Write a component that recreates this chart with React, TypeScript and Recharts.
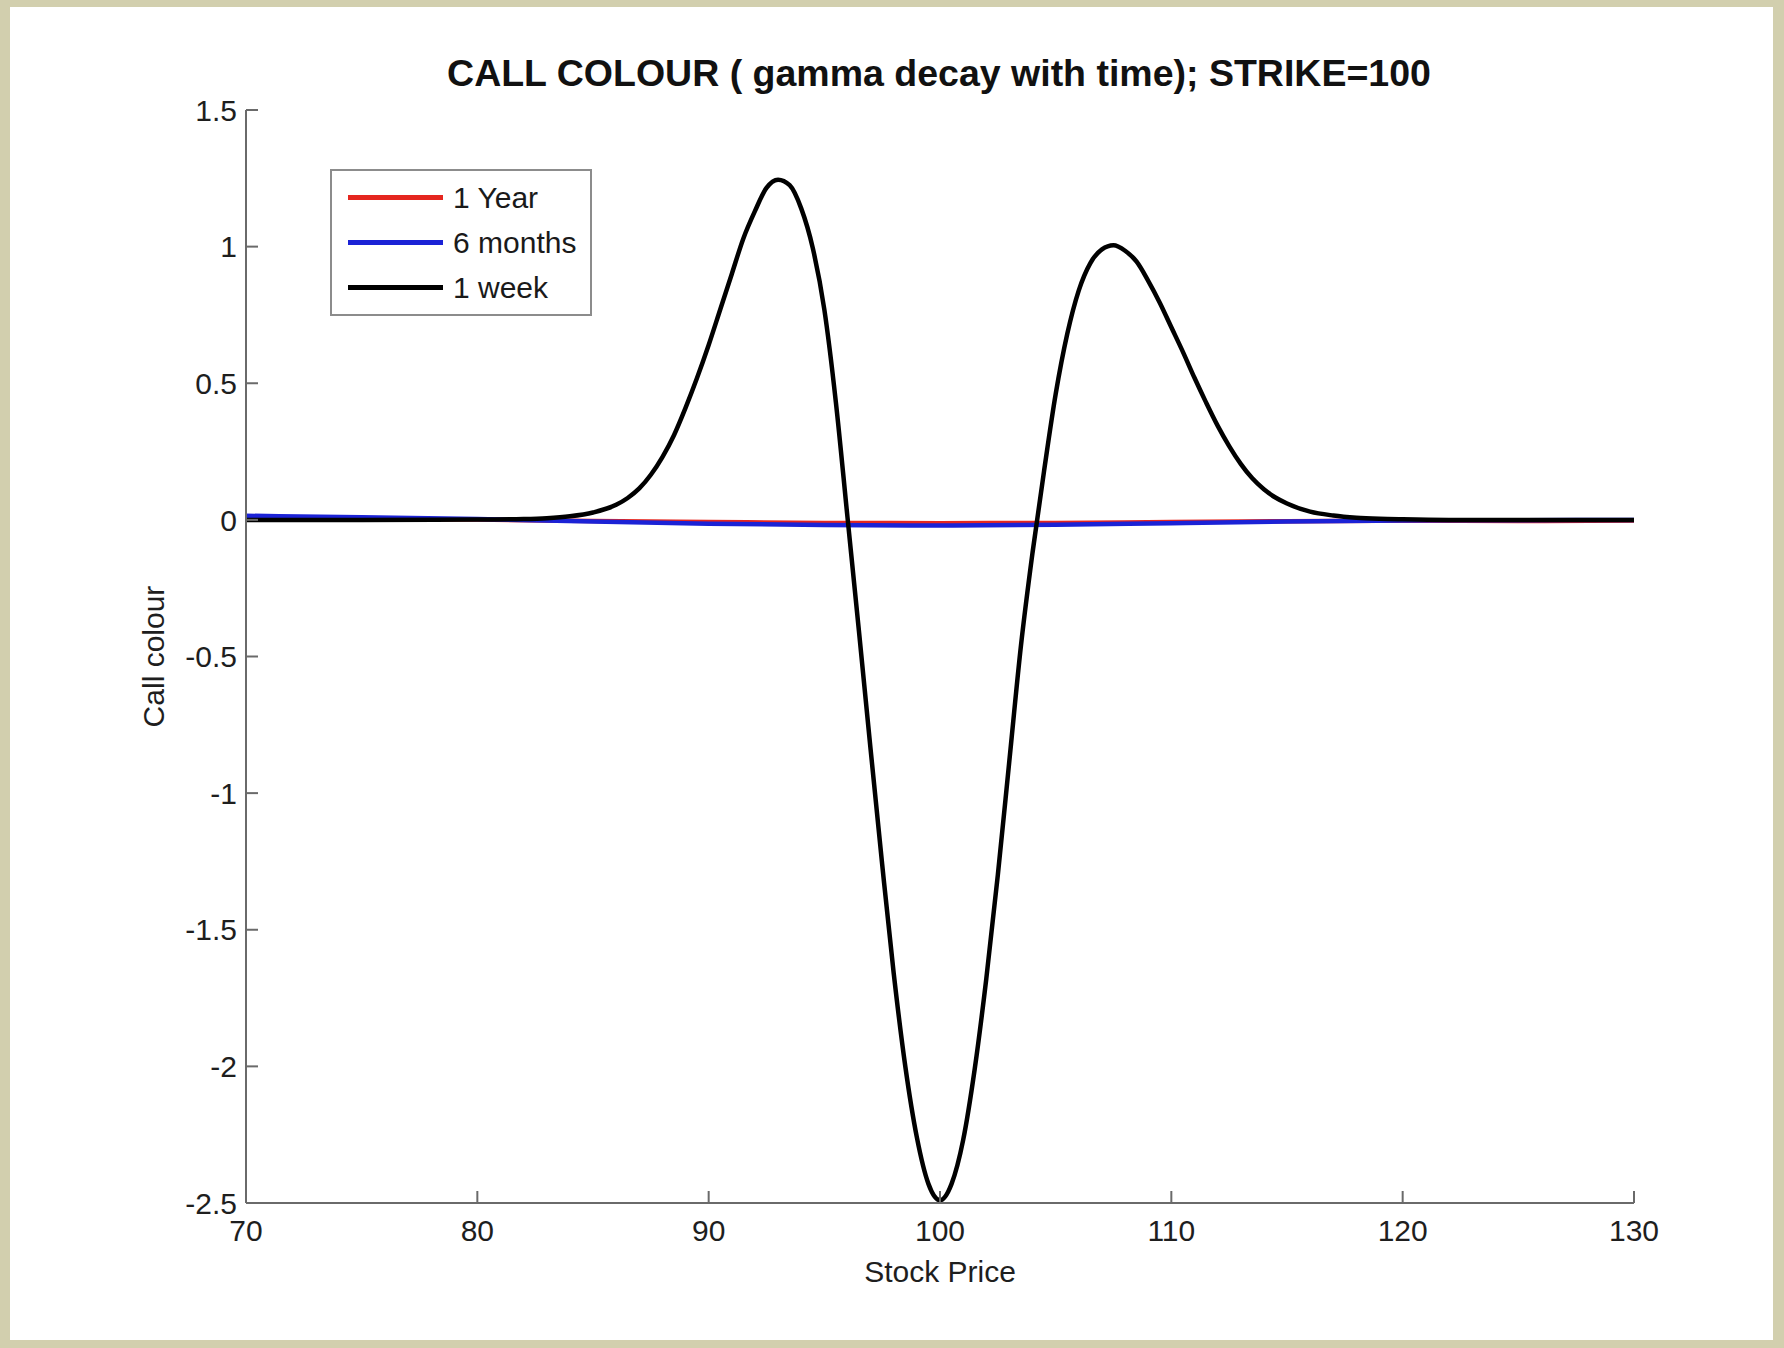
// Call colour (dGamma/dt) against stock price for three maturities, strike 100.
// MATLAB-style axes: left/bottom spines only, ticks pointing inward.

import { Legend, Line, LineChart, XAxis, YAxis } from "recharts";

const FONT = '"Liberation Sans", Arial, Helvetica, sans-serif';

// 1 year and 6 months stay close to zero across the whole range
const yearPrice = [70, 75, 80, 85, 90, 95, 100, 105, 110, 115, 120, 125, 130];
const yearColour = [0.006, 0.004, 0.001, -0.004, -0.008, -0.011, -0.012, -0.011, -0.008, -0.005, -0.003, -0.004, -0.002];

const halfPrice = [70, 75, 80, 85, 90, 95, 100, 105, 110, 115, 120, 125, 130];
const halfColour = [0.015, 0.01, 0.003, -0.006, -0.014, -0.019, -0.021, -0.018, -0.012, -0.006, -0.002, -0.001, 0.0];

// 1 week: two positive lobes around a deep trough at the strike
const weekPrice = [
  70, 75, 80, 82, 83, 84, 85, 86, 86.5, 87, 87.5, 88, 88.5, 89, 89.5, 90, 90.5, 91, 91.5, 92, 92.5, 93, 93.5,
  94, 94.5, 95, 95.5, 96, 96.5, 97, 97.5, 98, 98.5, 99, 99.5, 100, 100.5, 101, 101.5, 102, 102.5, 103, 103.5,
  104, 104.5, 105, 105.5, 106, 106.5, 107, 107.5, 108, 108.5, 109, 109.5, 110, 110.5, 111, 111.5, 112, 112.5,
  113, 113.5, 114, 114.5, 115, 116, 117, 118, 119, 120, 122, 125, 130,
];
const weekColour = [
  0, 0, 0.001, 0.003, 0.006, 0.013, 0.027, 0.055, 0.08, 0.115, 0.165, 0.23, 0.31, 0.41, 0.52, 0.64, 0.77, 0.9,
  1.03, 1.13, 1.215, 1.245, 1.225, 1.14, 0.995, 0.77, 0.43, 0.01, -0.41, -0.84, -1.26, -1.66, -2.0, -2.26, -2.43,
  -2.49, -2.43, -2.27, -2.01, -1.68, -1.3, -0.88, -0.46, -0.12, 0.18, 0.46, 0.68, 0.84, 0.94, 0.99, 1.005,
  0.985, 0.945, 0.875, 0.795, 0.705, 0.615, 0.52, 0.43, 0.345, 0.27, 0.205, 0.152, 0.112, 0.082, 0.06, 0.03,
  0.016, 0.008, 0.004, 0.002, 0, 0, 0,
];

const priceTicks = [70, 80, 90, 100, 110, 120, 130];
const colourTicks = [-2.5, -2, -1.5, -1, -0.5, 0, 0.5, 1, 1.5];
const legendOrder = ["1 Year", "6 months", "1 week"];

const zip = (xs: number[], ys: number[]) => xs.map((price, i) => ({ price, value: ys[i] }));

const yearData = zip(yearPrice, yearColour);
const halfData = zip(halfPrice, halfColour);
const weekData = zip(weekPrice, weekColour);

const AXIS = "#6a6a6a";
const tickStyle = { fill: "#1e1e1e", fontSize: 30, fontFamily: FONT };

interface LegendEntry {
  value: string;
  color: string;
}

function LegendBox({ payload }: { payload?: LegendEntry[] }) {
  const entries = [...(payload ?? [])].sort(
    (a, b) => legendOrder.indexOf(a.value) - legendOrder.indexOf(b.value),
  );
  return (
    <div
      style={{
        width: 262,
        height: 147,
        boxSizing: "border-box",
        border: "2px solid #8c8c8c",
        background: "#fff",
        paddingTop: 4,
        fontFamily: FONT,
        fontSize: 30,
        color: "#1a1a1a",
      }}
    >
      {entries.map((p) => (
        <div key={p.value} style={{ display: "flex", alignItems: "center", height: 45 }}>
          <span style={{ width: 95, height: 4.5, marginLeft: 16, background: p.color, display: "inline-block" }} />
          <span style={{ marginLeft: 10, lineHeight: "30px" }}>{p.value}</span>
        </div>
      ))}
    </div>
  );
}

export default function App() {
  return (
    <div style={{ position: "relative", width: 1784, height: 1348, background: "#d2cfae", overflow: "hidden" }}>
      <style>{"body{margin:0}"}</style>
      <div style={{ position: "absolute", left: 10, top: 7, width: 1763, height: 1333, background: "#fff" }} />
      <div
        style={{
          position: "absolute",
          left: 339,
          top: 55,
          width: 1200,
          textAlign: "center",
          fontFamily: FONT,
          fontWeight: "bold",
          fontSize: 37.5,
          lineHeight: "37px",
          color: "#111",
          whiteSpace: "nowrap",
        }}
      >
        CALL COLOUR ( gamma decay with time); STRIKE=100
      </div>
      <div style={{ position: "absolute", left: 0, top: 0 }}>
        <LineChart width={1784} height={1348} margin={{ top: 110, right: 150, bottom: 55, left: 100 }}>
          <XAxis
            type="number"
            dataKey="price"
            domain={[70, 130]}
            ticks={priceTicks}
            allowDataOverflow
            height={90}
            tickSize={-12}
            tickMargin={29}
            tick={tickStyle}
            axisLine={{ stroke: AXIS, strokeWidth: 2 }}
            tickLine={{ stroke: AXIS, strokeWidth: 2 }}
            label={{
              value: "Stock Price",
              position: "insideBottom",
              offset: 11,
              style: { fill: "#1e1e1e", fontSize: 30, fontFamily: FONT },
            }}
          />
          <YAxis
            type="number"
            domain={[-2.5, 1.5]}
            ticks={colourTicks}
            allowDataOverflow
            width={146}
            tickSize={-12}
            tickMargin={21}
            tick={tickStyle}
            axisLine={{ stroke: AXIS, strokeWidth: 2 }}
            tickLine={{ stroke: AXIS, strokeWidth: 2 }}
            label={{
              value: "Call colour",
              angle: -90,
              position: "insideLeft",
              offset: 53,
              style: { textAnchor: "middle", fill: "#1e1e1e", fontSize: 30, fontFamily: FONT },
            }}
          />
          <Legend
            layout="vertical"
            align="center"
            verticalAlign="middle"
            content={<LegendBox />}
            wrapperStyle={{ left: 330, top: 169, width: 262, height: 147 }}
          />
          <Line
            data={yearData}
            dataKey="value"
            name="1 Year"
            type="monotone"
            stroke="#e5261f"
            strokeWidth={4.5}
            dot={false}
            isAnimationActive={false}
          />
          <Line
            data={halfData}
            dataKey="value"
            name="6 months"
            type="monotone"
            stroke="#1b22d6"
            strokeWidth={4.5}
            dot={false}
            isAnimationActive={false}
          />
          <Line
            data={weekData}
            dataKey="value"
            name="1 week"
            type="monotone"
            stroke="#000"
            strokeWidth={4.5}
            dot={false}
            isAnimationActive={false}
          />
        </LineChart>
      </div>
    </div>
  );
}
